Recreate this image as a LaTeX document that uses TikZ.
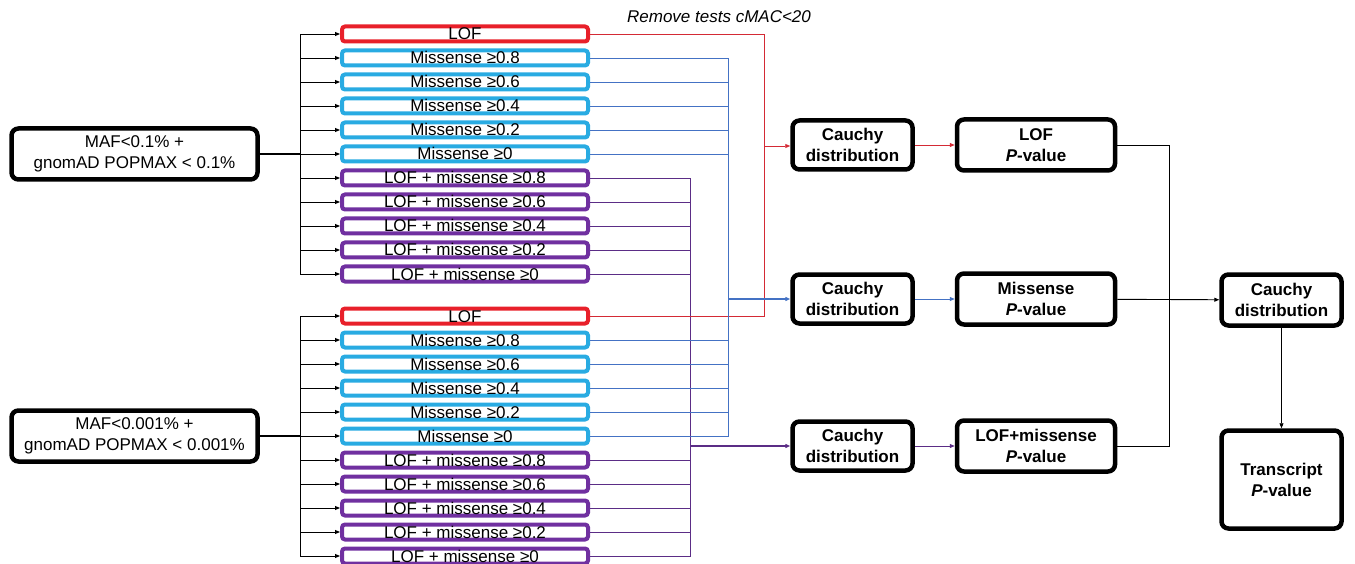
\documentclass[tikz,border=0pt]{standalone}
\usepackage{fontspec}
\setmainfont{Liberation Sans}
\usetikzlibrary{positioning,arrows.meta}
\definecolor{lofred}{HTML}{E8202A}
\definecolor{miscyan}{HTML}{29ABE2}
\definecolor{combpurple}{HTML}{7030A0}
\definecolor{redwire}{HTML}{D42A35}
\definecolor{bluewire}{HTML}{4472C4}
\definecolor{purplewire}{HTML}{5B2D86}

\begin{document}
\begin{tikzpicture}[x=1pt, y=-1pt,
  every node/.style={font=\fontsize{17}{21}\selectfont},
  varbox/.style={draw, line width=4pt, rounded corners=3pt, minimum width=246pt,
    minimum height=15pt, inner sep=0pt, text height=12pt, text depth=0pt},
  lofbox/.style={varbox, draw=lofred},
  misbox/.style={varbox, draw=miscyan},
  combbox/.style={varbox, draw=combpurple},
  mainbox/.style={draw, line width=4.5pt, rounded corners=7pt, align=center, inner sep=0pt},
  tip/.style={-{Triangle[length=5pt,width=4pt]}},
  feed/.style={line width=0.9pt, tip},
  redline/.style={draw=redwire, line width=0.9pt},
  blueline/.style={draw=bluewire, line width=0.9pt},
  purpleline/.style={draw=purplewire, line width=0.9pt}]
  \useasboundingbox (0,0) rectangle (1355,564);

  % filter boxes on the left
  \node[mainbox, minimum width=246pt, minimum height=51pt] (maf1) at (134.5,154) {MAF<0.1\% +\\gnomAD POPMAX < 0.1\%};
  \node[mainbox, minimum width=246pt, minimum height=51pt] (maf2) at (134.5,436) {MAF<0.001\% +\\gnomAD POPMAX < 0.001\%};
  \coordinate (splitt) at (300,154);
  \coordinate (splitb) at (300,436);

  % two columns of variant classes (rows 24pt apart)
  \foreach \g/\ystart in {t/34, b/316} {
    \foreach \i/\lab/\sty in {1/LOF/lofbox, 2/Missense ≥0.8/misbox, 3/Missense ≥0.6/misbox,
        4/Missense ≥0.4/misbox, 5/Missense ≥0.2/misbox, 6/Missense ≥0/misbox,
        7/LOF + missense ≥0.8/combbox, 8/LOF + missense ≥0.6/combbox,
        9/LOF + missense ≥0.4/combbox, 10/LOF + missense ≥0.2/combbox,
        11/LOF + missense ≥0/combbox} {
      \node[\sty] (\g\i) at (465, \ystart + 24*\i - 24) {\lab};
    }
  }
  \node[font=\fontsize{17}{21}\selectfont\itshape] (cmac) at (719,17) {Remove tests cMAC<20};

  % fan out from the filters
  \foreach \g/\src in {t/maf1, b/maf2} {
    \draw[line width=1.5pt] (\src.east) -- (split\g);
    \foreach \i in {1,...,11}
      \draw[feed] (split\g) |- (\g\i.west);
  }

  % Cauchy combination per class
  \node[mainbox, font=\fontsize{17}{21}\selectfont\bfseries, minimum width=120pt, minimum height=49pt] (c1) at (852.5,145) {Cauchy\\distribution};
  \node[mainbox, font=\fontsize{17}{21}\selectfont\bfseries, minimum width=120pt, minimum height=49pt] (c2) at (852.5,299) {Cauchy\\distribution};
  \node[mainbox, font=\fontsize{17}{21}\selectfont\bfseries, minimum width=120pt, minimum height=49pt] (c3) at (852.5,446) {Cauchy\\distribution};
  \coordinate (redjoin) at (764,146);
  \coordinate (bluejoin) at (728,299);
  \coordinate (purplejoin) at (690,446);

  \foreach \g in {t,b} {
    \draw[redline] (\g1.east) -| (redjoin);
    \foreach \i in {2,...,6}
      \draw[blueline] (\g\i.east) -| (bluejoin);
    \foreach \i in {7,...,11}
      \draw[purpleline] (\g\i.east) -| (purplejoin);
  }
  \draw[redline, tip] (redjoin) -- (c1.west |- redjoin);
  \draw[blueline, line width=1.8pt, tip] (bluejoin) -- (c2.west);
  \draw[purpleline, line width=1.8pt, tip] (purplejoin) -- (c3.west);

  % P-values per class
  \node[mainbox, font=\fontsize{17}{21}\selectfont\bfseries, minimum width=158pt, minimum height=51pt, right=40pt of c1] (p1) {LOF\\\textit{P}-value};
  \node[mainbox, font=\fontsize{17}{21}\selectfont\bfseries, minimum width=158pt, minimum height=51pt, right=40pt of c2] (p2) {Missense\\\textit{P}-value};
  \node[mainbox, font=\fontsize{17}{21}\selectfont\bfseries, minimum width=158pt, minimum height=51pt, right=40pt of c3] (p3) {LOF+missense\\\textit{P}-value};
  \draw[redline, tip] (c1) -- (p1);
  \draw[blueline, tip] (c2) -- (p2);
  \draw[purpleline, tip] (c3) -- (p3);

  % final combination
  \node[mainbox, font=\fontsize{17}{21}\selectfont\bfseries, minimum width=120pt, minimum height=51pt] (cf) at (1281.5,300) {Cauchy\\distribution};
  \node[mainbox, font=\fontsize{17}{21}\selectfont\bfseries, minimum width=120pt, minimum height=98pt] (tr) at (1281.5,479.5) {Transcript\\\textit{P}-value};
  \coordinate (pjoin) at (1169,300);
  \draw[line width=0.9pt] (p1.east) -| (pjoin);
  \draw[line width=0.9pt] (p3.east) -| (pjoin);
  \draw[feed] (p2) -- (cf);
  \draw[feed] (cf) -- (tr);
\end{tikzpicture}
\end{document}
